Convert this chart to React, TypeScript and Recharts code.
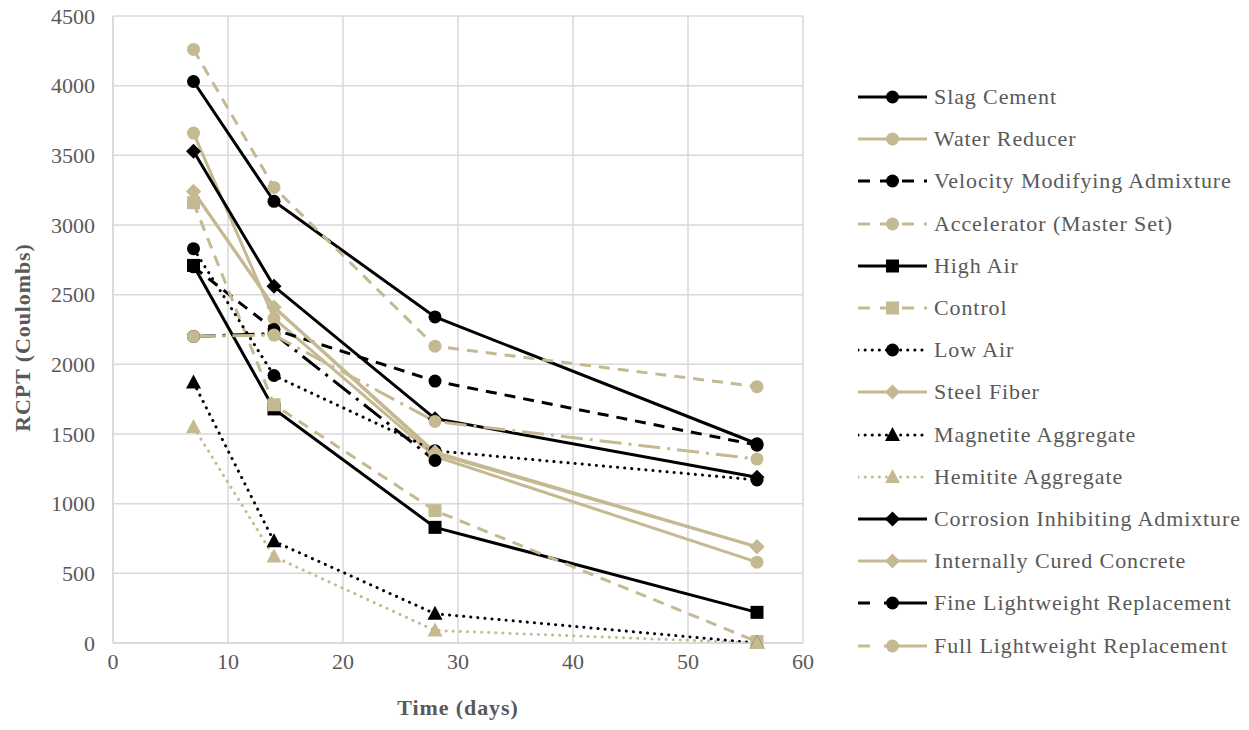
import React from 'react';
import { LineChart, Line, XAxis, YAxis, CartesianGrid, Legend } from 'recharts';

const days = [7, 14, 28, 56];
const xTicks = [0, 10, 20, 30, 40, 50, 60];
const yTicks = [0, 500, 1000, 1500, 2000, 2500, 3000, 3500, 4000, 4500];

const slagCement = [4030, 3170, 2340, 1430];
const waterReducer = [3660, 2330, 1340, 580];
const velocityModifying = [2700, 2250, 1880, 1420];
const accelerator = [4260, 3270, 2130, 1840];
const highAir = [2710, 1680, 830, 220];
const control = [3160, 1710, 950, 10];
const lowAir = [2830, 1920, 1380, 1170];
const steelFiber = [3240, 2410, 1370, 690];
const magnetite = [1870, 730, 210, 0];
const hemitite = [1550, 620, 90, 0];
const corrosionInhibiting = [3530, 2560, 1610, 1190];
const internallyCured = [3240, 2410, 1360, 690];
const fineLightweight = [2200, 2220, 1310, null];
const fullLightweight = [2200, 2210, 1590, 1320];

const BLACK = '#000000';
const TAN = '#C5B991';
const FONT = '"Liberation Serif", "Times New Roman", serif';
const TEXT = '#595959';

type Marker = 'circle' | 'square' | 'diamond' | 'triangle';
type Dash = 'solid' | 'dash' | 'dot' | 'dashdot';
interface SeriesDef { key: string; name: string; values: (number | null)[]; color: string; dash: Dash; marker: Marker; }

const series: SeriesDef[] = [
  { key: 's0', name: 'Slag Cement', values: slagCement, color: BLACK, dash: 'solid', marker: 'circle' },
  { key: 's1', name: 'Water Reducer', values: waterReducer, color: TAN, dash: 'solid', marker: 'circle' },
  { key: 's2', name: 'Velocity Modifying Admixture', values: velocityModifying, color: BLACK, dash: 'dash', marker: 'circle' },
  { key: 's3', name: 'Accelerator (Master Set)', values: accelerator, color: TAN, dash: 'dash', marker: 'circle' },
  { key: 's4', name: 'High Air', values: highAir, color: BLACK, dash: 'solid', marker: 'square' },
  { key: 's5', name: 'Control', values: control, color: TAN, dash: 'dash', marker: 'square' },
  { key: 's6', name: 'Low Air', values: lowAir, color: BLACK, dash: 'dot', marker: 'circle' },
  { key: 's7', name: 'Steel Fiber', values: steelFiber, color: TAN, dash: 'solid', marker: 'diamond' },
  { key: 's8', name: 'Magnetite Aggregate', values: magnetite, color: BLACK, dash: 'dot', marker: 'triangle' },
  { key: 's9', name: 'Hemitite Aggregate', values: hemitite, color: TAN, dash: 'dot', marker: 'triangle' },
  { key: 's10', name: 'Corrosion Inhibiting Admixture', values: corrosionInhibiting, color: BLACK, dash: 'solid', marker: 'diamond' },
  { key: 's11', name: 'Internally Cured Concrete', values: internallyCured, color: TAN, dash: 'solid', marker: 'diamond' },
  { key: 's12', name: 'Fine Lightweight Replacement', values: fineLightweight, color: BLACK, dash: 'dashdot', marker: 'circle' },
  { key: 's13', name: 'Full Lightweight Replacement', values: fullLightweight, color: TAN, dash: 'dashdot', marker: 'circle' },
];

const tableData = days.map((d, i) => {
  const row: Record<string, number | null> = { day: d };
  series.forEach((s) => { row[s.key] = s.values[i]; });
  return row;
});

const dashArray = (d: Dash): string | undefined => {
  if (d === 'dash') return '11 8';
  if (d === 'dot') return '0.1 7';
  if (d === 'dashdot') return '22 7 3 7';
  return undefined;
};

const legendDash = (d: Dash): string | undefined => {
  if (d === 'dash') return '12 10';
  if (d === 'dot') return '0.1 7';
  if (d === 'dashdot') return '12 14 100';
  return undefined;
};

function MarkerShape({ cx, cy, marker, color }: { cx: number; cy: number; marker: Marker; color: string }) {
  if (marker === 'circle') return <circle cx={cx} cy={cy} r={6.5} fill={color} stroke="none" />;
  if (marker === 'square') return <rect x={cx - 6.5} y={cy - 6.5} width={13} height={13} fill={color} stroke="none" />;
  if (marker === 'diamond') return <polygon points={`${cx},${cy - 7.5} ${cx + 7.5},${cy} ${cx},${cy + 7.5} ${cx - 7.5},${cy}`} fill={color} stroke="none" />;
  return <polygon points={`${cx},${cy - 8} ${cx + 7.5},${cy + 6} ${cx - 7.5},${cy + 6}`} fill={color} stroke="none" />;
}

const makeDot = (s: SeriesDef) => (props: any) => {
  const { cx, cy, index } = props;
  if (cx == null || cy == null || props.value == null) return <g key={`${s.key}-${index}`} />;
  return <MarkerShape key={`${s.key}-${index}`} cx={cx} cy={cy} marker={s.marker} color={s.color} />;
};

function LegendContent() {
  return (
    <div style={{ fontFamily: FONT, fontSize: 22, color: TEXT, letterSpacing: 0.9 }}>
      {series.map((s) => (
        <div key={s.key} style={{ display: 'flex', alignItems: 'center', height: 42.2 }}>
          <svg width={76} height={20} style={{ display: 'block' }}>
            <line x1={0} y1={10} x2={69} y2={10} stroke={s.color} strokeWidth={3}
              strokeDasharray={legendDash(s.dash)} strokeLinecap={s.dash === 'dot' ? 'round' : 'butt'} />
            <MarkerShape cx={34.5} cy={10} marker={s.marker} color={s.color} />
          </svg>
          <span style={{ whiteSpace: 'nowrap' }}>{s.name}</span>
        </div>
      ))}
    </div>
  );
}

const tickStyle = { fill: TEXT, fontSize: 22, fontFamily: FONT };

export default function App() {
  return (
    <div style={{ width: 1233, height: 722, position: 'relative', marginTop: -8 }}>
      <LineChart width={1233} height={722} data={tableData} margin={{ top: 16, right: 438, bottom: 49, left: 5 }}>
        <CartesianGrid stroke="#D9D9D9" strokeWidth={1.5} horizontal vertical />
        <XAxis dataKey="day" type="number" domain={[0, 60]} ticks={xTicks} height={30}
          axisLine={{ stroke: '#D9D9D9', strokeWidth: 1.5 }} tickLine={false} tickSize={6} tickMargin={4}
          tick={tickStyle} interval={0}
          label={{ content: (p: any) => {
            const vb = p.viewBox;
            return <text x={vb.x + vb.width / 2} y={707} textAnchor="middle" dominantBaseline="central"
              style={{ fontFamily: FONT, fontSize: 22, fontWeight: 'bold', fill: TEXT, letterSpacing: 0.9 }}>Time (days)</text>;
          } }} />
        <YAxis type="number" domain={[0, 4500]} ticks={yTicks} width={100} interval={0}
          axisLine={{ stroke: '#D9D9D9', strokeWidth: 1.5 }} tickLine={false} tickSize={8} tickMargin={10}
          tick={tickStyle}
          label={{ content: (p: any) => {
            const vb = p.viewBox;
            const cy = vb.y + vb.height / 2 + 8;
            return <text x={14} y={cy} textAnchor="middle" dominantBaseline="central" transform={`rotate(-90, 14, ${cy})`}
              style={{ fontFamily: FONT, fontSize: 22, fontWeight: 'bold', fill: TEXT, letterSpacing: 0.9 }}>RCPT (Coulombs)</text>;
          } }} />
        <Legend layout="horizontal" align="center" verticalAlign="middle" content={<LegendContent />}
          wrapperStyle={{ left: 850, top: 76, width: 383, height: 600 }} />
        {series.map((s) => (
          <Line key={s.key} dataKey={s.key} name={s.name} type="linear" stroke={s.color} strokeWidth={3}
            strokeDasharray={dashArray(s.dash)} strokeLinecap={s.dash === 'dot' ? 'round' : 'butt'}
            dot={makeDot(s)} activeDot={false} isAnimationActive={false} connectNulls={false} />
        ))}
      </LineChart>
    </div>
  );
}
